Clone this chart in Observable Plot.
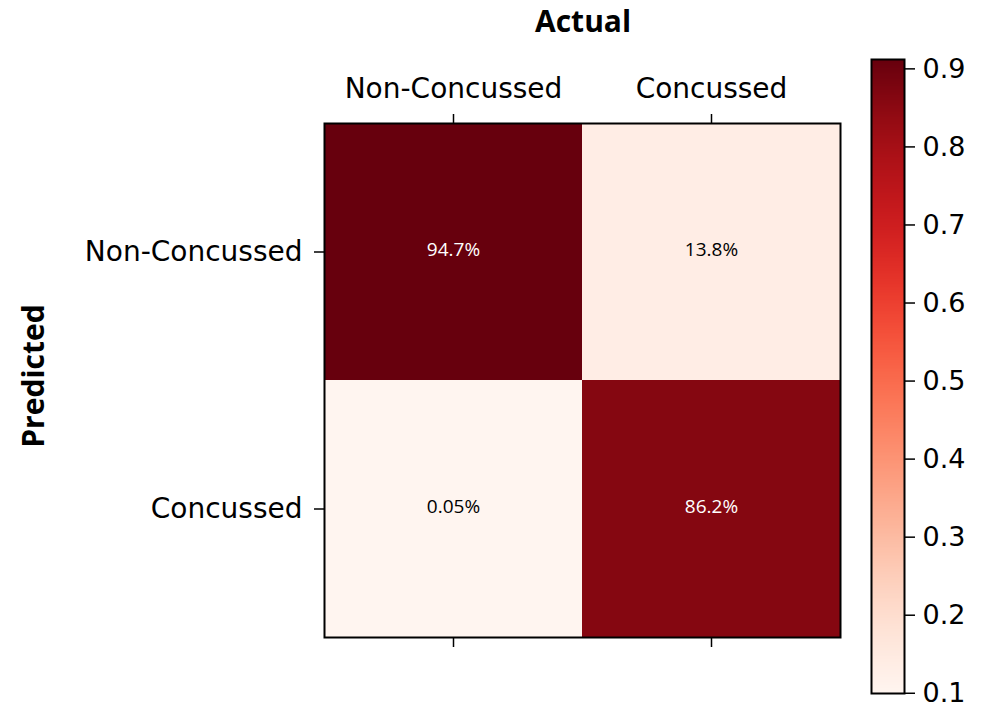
<!DOCTYPE html>
<html><head><meta charset="utf-8">
<script src="https://cdn.jsdelivr.net/npm/d3@7"></script>
<script src="https://cdn.jsdelivr.net/npm/@observablehq/plot@0.6"></script>
<style>
body{margin:0;background:#fff;}
#wrap{position:relative;width:985px;height:711px;overflow:hidden;}
#wrap svg{position:absolute;left:0;top:0;}
#wrap svg text{font-family:"DejaVu Sans",sans-serif;}
#wrap svg g.cellv text{font-family:"Open Sans",sans-serif;}
.ttl{position:absolute;font-family:"Open Sans",sans-serif;font-weight:700;font-size:30px;color:#000;white-space:nowrap;}
</style></head>
<body><div id="wrap"></div>
<script>
const classes = ["Non-Concussed", "Concussed"];
const actual = ["Non-Concussed", "Concussed", "Non-Concussed", "Concussed"];
const predicted = ["Non-Concussed", "Non-Concussed", "Concussed", "Concussed"];
const rates = [0.947, 0.138, 0.0005, 0.862];
const rateLabels = ["94.7%", "13.8%", "0.05%", "86.2%"];
const colorTicks = [0.1, 0.2, 0.3, 0.4, 0.5, 0.6, 0.7, 0.8, 0.9];
const colorDomain = [0.0997, 0.912];

const cells = rates.map((v, i) => ({actual: actual[i], predicted: predicted[i], v, label: rateLabels[i]}));
const colorOpts = {type: "linear", scheme: "reds", domain: colorDomain, clamp: true};

const wrap = document.getElementById("wrap");

const main = Plot.plot({
  width: 985, height: 711,
  marginLeft: 324, marginRight: 145, marginTop: 123, marginBottom: 74,
  style: {fontFamily: "'DejaVu Sans', sans-serif", fontSize: "28px", color: "#000", background: "transparent"},
  x: {type: "band", domain: classes, padding: 0, axis: null},
  y: {type: "band", domain: classes, padding: 0, axis: null},
  color: colorOpts,
  marks: [
    Plot.cell(cells, {x: "actual", y: "predicted", fill: "v"}),
    Plot.text(cells, {x: "actual", y: "predicted", text: "label",
      fill: d => d.v > 0.5 ? "white" : "black",
      fontFamily: "Open Sans", fontSize: 19, fontWeight: 500, dy: -2, className: "cellv"}),
    Plot.axisX({anchor: "top", tickSize: 10, tickPadding: 16, label: null, fontSize: 28, fontFamily: "DejaVu Sans", strokeWidth: 1.5}),
    Plot.axisX({anchor: "bottom", tickSize: 10, tickFormat: () => "", label: null, strokeWidth: 1.5}),
    Plot.axisY({anchor: "left", tickSize: 10, tickPadding: 12, label: null, fontSize: 28, fontFamily: "DejaVu Sans", strokeWidth: 1.5}),
    Plot.frame({stroke: "black", strokeWidth: 2})
  ]
});
wrap.appendChild(main);

const cbar = Plot.plot({
  width: 985, height: 711,
  marginLeft: 871, marginRight: 81, marginTop: 59, marginBottom: 18,
  style: {fontFamily: "'DejaVu Sans', sans-serif", fontSize: "27px", color: "#000", background: "transparent"},
  x: {domain: [0, 1], axis: null},
  y: {domain: colorDomain, axis: null},
  color: colorOpts,
  marks: [
    Plot.raster({fill: (x, y) => y, x1: 0, x2: 1, y1: colorDomain[0], y2: colorDomain[1], width: 4, height: 400, imageRendering: "auto"}),
    Plot.axisY(colorTicks, {anchor: "right", tickSize: 10, tickPadding: 8, label: null, fontSize: 27, fontFamily: "DejaVu Sans", strokeWidth: 1.5, tickFormat: d => d.toFixed(1)}),
    Plot.frame({stroke: "black", strokeWidth: 2})
  ]
});
wrap.appendChild(cbar);

const t1 = document.createElement("div");
t1.className = "ttl"; t1.textContent = "Actual";
t1.style.left = "535px"; t1.style.top = "0px";
wrap.appendChild(t1);
const t2 = document.createElement("div");
t2.className = "ttl"; t2.textContent = "Predicted";
t2.style.left = "32px"; t2.style.top = "376px";
t2.style.transform = "translate(-50%,-50%) rotate(-90deg)";
wrap.appendChild(t2);
</script></body></html>
